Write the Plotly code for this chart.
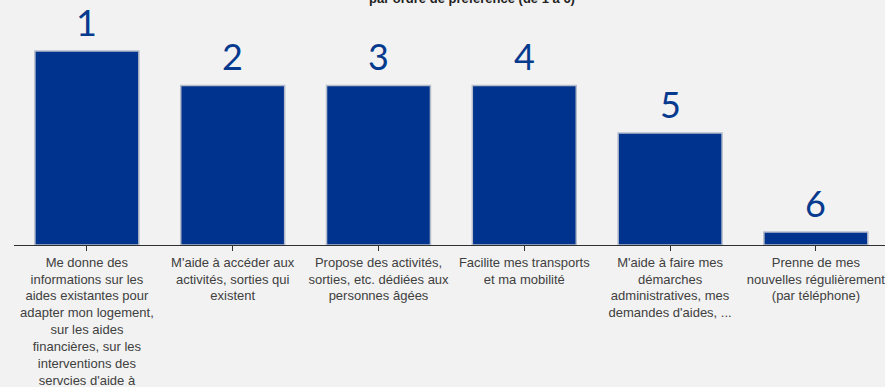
import plotly.graph_objects as go

categories = [
    "Me donne des<br>informations sur les<br>aides existantes pour<br>adapter mon logement,<br>sur les aides<br>financières, sur les<br>interventions des<br>servcies d'aide à<br>domicile",
    "M'aide à accéder aux<br>activités, sorties qui<br>existent",
    "Propose des activités,<br>sorties, etc. dédiées aux<br>personnes âgées",
    "Facilite mes transports<br>et ma mobilité",
    "M'aide à faire mes<br>démarches<br>administratives, mes<br>demandes d'aides, ...",
    "Prenne de mes<br>nouvelles régulièrement<br>(par téléphone)",
]
values = [45, 37, 37, 37, 26, 3]
ranks = ["1", "2", "3", "4", "5", "6"]
title_text = "par ordre de préférence (de 1 à 6)"

bar_color = "#00338D"
bg = "#F2F2F2"

fig = go.Figure()
fig.add_trace(go.Bar(
    x=list(range(len(categories))),
    y=values,
    marker=dict(color=bar_color, line=dict(color="#B4BCCB", width=1.5)),
    hoverinfo="skip",
))

for i, (v, r) in enumerate(zip(values, ranks)):
    fig.add_annotation(
        x=i, y=v, text=r, showarrow=False, yanchor="bottom", yshift=5,
        font=dict(family="Lato, Open Sans, sans-serif", size=36, color="#063A8E"),
    )

fig.update_layout(
    width=885, height=387,
    paper_bgcolor=bg, plot_bgcolor=bg,
    margin=dict(l=14, r=0, t=20, b=142),
    bargap=0.287,
    showlegend=False,
    title=dict(
        text="<b>" + title_text + "</b>",
        x=472 / 885, xanchor="center",
        y=1 - 3 / 387, yanchor="bottom",
        font=dict(family="Liberation Sans, Arial, sans-serif", size=13, color="#222222"),
    ),
    xaxis=dict(
        tickmode="array",
        tickvals=list(range(len(categories))),
        ticktext=categories,
        range=[-0.5, 5.474],
        tickson="boundaries",
        ticks="outside", ticklen=5, tickcolor="#303030",
        showline=True, linecolor="#303030", linewidth=1,
        showgrid=False, zeroline=False,
        tickangle=0,
        ticklabeloverflow="allow",
        tickfont=dict(family="Liberation Sans, Arial, sans-serif", size=13, color="#404040"),
        automargin=False,
    ),
    yaxis=dict(
        range=[0, 225 / (194 / 45)],
        visible=False, showgrid=False, zeroline=False,
    ),
)

fig.write_html(
    "out.html",
    config={"displayModeBar": False},
    post_script="document.body.style.margin='0';document.body.style.overflow='hidden';",
)
